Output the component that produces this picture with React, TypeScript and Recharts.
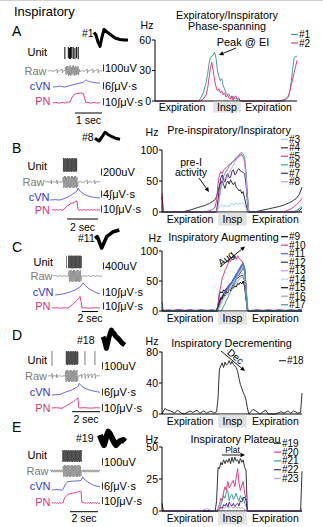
import React from 'react';
import { LineChart, Line, XAxis, YAxis, ReferenceArea, BarChart, Bar } from 'recharts';

type P = [number, number];
type S = [number, number, number];

const FONT = '"Liberation Sans", Arial, Helvetica, sans-serif';
const BAND_FILL = '#e2e2e2';

const TEAL = '#3f9d97';
const PINK = '#e63a88';
const LBLUE = '#92d6ee';
const DGREY = '#333333';
const DPURP = '#4b2882';
const LILAC = '#c49de8';
const BLUE = '#4b5fe3';
const GREY = '#a3a3a3';
const LCYAN = '#abe0f0';
const BLACK = '#111111';

// ---------- right-hand firing-rate panels ----------
const PHASE_LABELS = ['Expiration', 'Insp', 'Expiration'];

const T_A = [0, 10, 20, 28, 30, 32, 34, 36, 37, 38, 39, 40, 41, 42, 43, 44, 45, 46, 47, 48, 49, 50, 51, 52, 53, 54, 55, 56, 57, 58, 59, 60, 62, 65, 70, 80, 88, 90, 92, 94, 95, 96, 97, 98, 99, 100];
const A1 = [0, 0, 0, 0, 0, 2, 8, 18, 26, 36, 43, 44, 45, 48, 42, 30, 24, 20, 22, 15, 12, 8, 6, 7, 4, 3, 5, 2, 3, 1, 2, 0, 0, 0, 0, 0, 0, 0, 1, 4, 10, 20, 32, 42, 44, 44];
const A2 = [0, 0, 0, 0, 0, 0, 2, 6, 12, 22, 32, 38, 30, 20, 14, 10, 12, 8, 10, 6, 8, 4, 6, 3, 2, 5, 1, 4, 5, 2, 3, 0, 0, 0, 0, 0, 0, 1, 2, 5, 10, 16, 22, 28, 34, 40];

const T_B = [0, 1, 2, 4, 8, 12, 16, 20, 24, 28, 30, 32, 34, 36, 38,
  39, 40, 41, 42, 43, 44, 45, 46, 47, 48, 49, 50, 51, 52, 53, 54, 55, 56, 57, 58, 59, 60, 61, 62,
  64, 68, 72, 76, 80, 84, 88, 90, 92, 94, 96, 98, 100];
const B3 = [0, 0, 0, 0, 0, 0, 0, 0, 0, 0, 0, 0, 0, 0, 0,
  1, 4, 8, 10, 12, 9, 11, 8, 10, 9, 12, 14, 11, 13, 15, 12, 14, 13, 15, 14, 12, 6, 0, 0,
  0, 0, 0, 0, 0, 0, 0, 0, 0, 1, 3, 6, 10];
const B4 = [25, 0, 0, 0, 0, 0, 1, 3, 6, 9, 10, 12, 14, 17, 20,
  25, 33, 42, 48, 50, 44, 38, 46, 50, 45, 52, 47, 44, 48, 40, 38, 34, 36, 30, 33, 22, 12, 4, 0,
  0, 1, 3, 5, 7, 9, 12, 14, 16, 19, 22, 28, 40];
const B5 = [30, 0, 0, 0, 0, 0, 0, 0, 0, 0, 0, 1, 2, 4, 8,
  20, 45, 60, 65, 62, 68, 70, 72, 74, 77, 78, 80, 82, 84, 86, 88, 90, 92, 93, 88, 82, 60, 25, 0,
  0, 0, 0, 0, 0, 0, 1, 3, 5, 8, 12, 16, 22];
const B6 = [0, 0, 0, 0, 0, 0, 0, 0, 0, 0, 0, 0, 0, 0, 0,
  2, 10, 25, 40, 52, 58, 62, 66, 70, 74, 76, 80, 82, 85, 88, 90, 92, 95, 96, 94, 88, 65, 30, 0,
  0, 0, 0, 0, 0, 0, 0, 0, 0, 0, 2, 5, 8];
const B7 = [0, 0, 0, 0, 0, 0, 0, 0, 0, 0, 0, 0, 0, 0, 0,
  2, 20, 40, 55, 60, 52, 48, 58, 62, 55, 56, 66, 68, 60, 62, 68, 70, 66, 65, 64, 62, 45, 15, 0,
  0, 0, 0, 0, 0, 0, 0, 0, 0, 0, 0, 2, 6];
const B8 = [0, 0, 0, 0, 0, 0, 0, 0, 0, 0, 0, 0, 0, 0, 0,
  1, 8, 22, 35, 45, 48, 55, 52, 60, 62, 68, 72, 75, 80, 84, 86, 88, 90, 91, 88, 80, 55, 20, 0,
  0, 0, 0, 0, 0, 0, 0, 0, 0, 0, 0, 0, 0];

const T_C = [0, 1, 2, 4, 8, 12, 16, 20, 24, 28, 32, 36, 38,
  39, 40, 41, 42, 43, 44, 45, 46, 47, 48, 49, 50, 51, 52, 53, 54, 55, 56, 57, 58, 59, 60, 61, 62,
  64, 68, 72, 76, 80, 84, 88, 92, 96, 98, 100];
const C9 = [2, 0, 1, 0, 1, 0, 1, 0, 1, 0, 1, 0, 0,
  1, 10, 28, 32, 30, 35, 33, 38, 40, 44, 46, 42, 45, 50, 52, 55, 57, 58, 60, 57, 50, 25, 3, 0,
  0, 1, 0, 1, 0, 1, 0, 1, 0, 2, 3];
const C10 = [1, 2, 1, 2, 1, 3, 1, 2, 1, 2, 1, 2, 1,
  2, 8, 30, 42, 55, 60, 68, 72, 78, 85, 82, 90, 88, 93, 86, 92, 88, 85, 84, 78, 70, 40, 5, 0,
  1, 2, 1, 2, 1, 2, 1, 2, 1, 2, 3];
const C11 = [0, 1, 0, 1, 0, 1, 0, 1, 0, 1, 0, 1, 0,
  0, 5, 15, 20, 24, 28, 32, 35, 38, 42, 45, 48, 52, 56, 60, 64, 68, 72, 76, 78, 70, 35, 3, 0,
  0, 1, 0, 1, 0, 1, 0, 1, 0, 1, 2];
const C12 = [0, 0, 0, 0, 0, 0, 0, 0, 0, 0, 0, 0, 0,
  0, 2, 10, 18, 22, 26, 28, 32, 34, 38, 40, 42, 46, 48, 52, 55, 60, 64, 68, 72, 66, 30, 2, 0,
  0, 0, 0, 0, 0, 0, 0, 0, 0, 0, 0];
const C13 = [0, 0, 1, 0, 0, 1, 0, 0, 1, 0, 0, 1, 0,
  0, 3, 12, 16, 20, 25, 30, 28, 35, 38, 42, 45, 48, 50, 55, 58, 62, 66, 70, 74, 65, 32, 4, 0,
  0, 0, 1, 0, 0, 1, 0, 0, 1, 0, 0];
const C14 = [0, 0, 0, 0, 0, 0, 0, 0, 0, 0, 0, 0, 0,
  0, 0, 5, 10, 15, 20, 25, 30, 33, 36, 40, 44, 46, 50, 52, 56, 58, 60, 62, 64, 55, 28, 2, 0,
  0, 0, 0, 0, 0, 0, 0, 0, 0, 0, 0];
const C15 = [0, 0, 0, 0, 0, 0, 0, 0, 0, 0, 0, 0, 0,
  0, 5, 15, 22, 20, 28, 25, 32, 30, 36, 34, 40, 38, 42, 40, 46, 44, 48, 45, 50, 40, 20, 2, 0,
  0, 0, 0, 0, 0, 0, 0, 0, 0, 0, 0];
const C16 = [0, 0, 0, 0, 0, 0, 0, 0, 0, 0, 0, 0, 0,
  0, 2, 8, 12, 18, 22, 26, 30, 28, 35, 38, 40, 42, 45, 48, 50, 52, 55, 56, 58, 50, 25, 2, 0,
  0, 0, 0, 0, 0, 0, 0, 0, 0, 0, 0];
const C17 = [15, 0, 0, 0, 0, 0, 0, 0, 0, 0, 0, 0, 0,
  0, 0, 0, 0, 3, 8, 12, 18, 22, 28, 32, 36, 42, 48, 55, 62, 66, 70, 74, 78, 68, 30, 2, 0,
  0, 0, 0, 0, 0, 0, 0, 0, 0, 0, 0];

const T_D = [0, 2, 4, 6, 9, 11, 14, 16, 20, 22, 25, 27, 30, 32, 35, 37, 39,
  40, 41, 42, 43, 44, 45, 46, 47, 48, 49, 50, 51, 52, 53, 54, 55, 56, 57, 58, 59, 60, 61, 62,
  65, 67, 70, 74, 76, 81, 85, 87, 90, 92, 94, 97, 99, 100];
const D18 = [0, 7, 5, 4, 1, 5, 1, 0, 4, 2, 5, 1, 4, 1, 4, 1, 3,
  20, 58, 62, 66, 60, 67, 63, 65, 69, 64, 68, 64, 62, 60, 55, 46, 38, 33, 28, 24, 18, 8, 0,
  6, 4, 0, 5, 0, 0, 3, 1, 4, 1, 4, 1, 2, 27];

const T_E = [0, 1, 2, 4, 8, 12, 16, 20, 24, 28, 32, 36, 38,
  39, 40, 41, 42, 43, 44, 45, 46, 47, 48, 49, 50, 51, 52, 53, 54, 55, 56, 57, 58, 59, 60, 61, 62,
  64, 68, 72, 76, 80, 84, 88, 92, 96, 98, 99, 100];
const E19 = [6, 0, 0, 0, 0, 0, 0, 0, 0, 0, 0, 0, 0,
  8, 34, 33, 38, 36, 40, 37, 40, 38, 41, 37, 42, 38, 42, 39, 40, 37, 41, 38, 40, 34, 32, 0, 0,
  0, 0, 0, 0, 0, 0, 0, 0, 0, 0, 0, 31];
const E20 = [0, 0, 0, 0, 0, 0, 0, 0, 0, 0, 0, 0, 0,
  0, 2, 5, 10, 8, 15, 19, 16, 23, 18, 20, 22, 24, 19, 26, 33, 22, 16, 20, 23, 14, 10, 0, 0,
  0, 0, 0, 0, 0, 0, 0, 0, 0, 0, 0, 2];
const E21 = [0, 0, 0, 0, 0, 0, 0, 0, 0, 0, 0, 0, 0,
  0, 0, 2, 5, 8, 12, 10, 15, 16, 8, 12, 13, 9, 11, 14, 10, 8, 12, 9, 11, 6, 4, 0, 0,
  0, 0, 0, 0, 0, 0, 0, 0, 0, 0, 0, 0];
const E22 = [0, 0, 0, 0, 0, 0, 0, 0, 0, 0, 0, 0, 0,
  0, 0, 1, 3, 2, 5, 4, 6, 3, 7, 5, 4, 6, 3, 5, 6, 4, 8, 7, 10, 11, 8, 1, 0,
  0, 0, 0, 0, 0, 0, 0, 0, 0, 0, 0, 0];
const E23 = [0, 0, 0, 0, 0, 0, 0, 0, 0, 0, 2, 0, 0,
  0, 0, 1, 2, 1, 3, 2, 4, 3, 2, 4, 3, 2, 4, 3, 2, 3, 2, 3, 2, 1, 1, 0, 0,
  0, 0, 0, 0, 0, 0, 0, 0, 0, 0, 0, 0];

// ---------- left-hand example traces ----------
const UNIT_A: S[] = [[35, -6, 6], [41, -5, 6], [43, -6, 5], [45, -6, 6], [47, -5, 6], [49.6, -6, 6], [52.6, -6, 5], [55.6, -5, 6], [58.4, -6, 6]];
const RAW_A: P[] = [[5, 0], [10, 0.4], [14, -0.3], [18, 0.3], [21, 2], [21.5, -2], [22, 0], [26, 0.3], [30, 2], [30.5, -2], [31, 0], [34, 0.3], [35, 0], [36, 4], [37, -4], [38, 5], [39, -3], [40, 5], [41, -5], [42, 4], [43, -4], [44, 6], [45, -5], [46, 4], [47, -4], [48, 5], [49, -3], [50, 6], [51, -5], [52, 4], [53, -4], [54, 5], [55, -4], [56, 4], [57, -3], [58, 5], [59, -4], [60, 2], [61, -1], [62, 0], [66, 0.3], [70, -0.3], [74, 2], [74.5, -2], [75, 0], [79, 0.3], [84, 2], [84.5, -2], [85, 0], [89, 0.3], [93, 2], [93.5, -2], [94, 0], [97, 0.3], [100, 0]];
const CVN_A: P[] = [[14, 0], [20, 0.3], [26, 1], [30, 0.5], [34, 0], [38.6, 0.5], [44, 1.5], [49, 2.3], [58, 3.5], [66.7, 4.6], [71, 6.5], [72, 7.3], [74, 6.2], [78, 5.5], [83, 4.8], [89.5, 4.2], [96.5, 3.8]];
const PN_A: P[] = [[14, 0], [19, 0.8], [24.6, -0.3], [29.8, 0.7], [35, 0], [40, 0.8], [43.9, 1], [47, 5], [50.9, 8.5], [56, 9.5], [62, 10], [67.2, 9.5], [69.5, 5], [71.5, 0.5], [75.4, 0.7], [80.7, -0.2], [86, 0.6], [91, -0.2], [96.5, 0.5]];

const UNIT_B: S[] = [[32, -7, 7], [33, -6, 7], [34, -7, 6], [35, -7, 7], [36, -6, 7], [37, -7, 7], [38, -7, 6], [39, -6, 7], [40, -7, 7], [41, -7, 6], [42, -6, 7], [43, -7, 7], [44, -7, 6], [45, -6, 7], [46, -7, 7], [47, -7, 6], [48, -6, 7], [49, -7, 7], [50, -7, 6], [51, -6, 7], [52, -7, 7], [53, -7, 6], [54, -6, 7], [55, -7, 7], [56, -6, 6]];
const RAW_B: P[] = [[0, 0], [5, 0.4], [10, -0.3], [11, 2], [11.5, -2], [12, 0], [16, 0.3], [20, -0.3], [21, 2], [21.5, -2], [22, 0], [26, 0.3], [30, -0.3], [31.5, 0], [32, 5], [33, -6], [34, 6], [35, -5], [36, 6], [37, -6], [38, 5], [39, -6], [40, 6], [41, -5], [42, 6], [43, -6], [44, 5], [45, -6], [46, 6], [47, -5], [48, 6], [49, -6], [50, 5], [51, -6], [52, 6], [53, -5], [54, 6], [55, -6], [56, 5], [57, -5], [58, 0], [62, 0.3], [66, -0.3], [70, 0.3], [74, 2], [74.5, -2], [75, 0], [79, 0.3], [83, -0.3], [87, 2], [87.5, -2], [88, 0], [92, 0.3], [96.5, 0]];
const CVN_B: P[] = [[8.8, 0], [17.5, 0.3], [26.3, 0], [31.6, 1], [40.4, 3], [47.4, 5.5], [52.6, 7.5], [56, 9], [57.9, 12], [59.6, 10], [63, 8], [68.4, 6], [75.4, 4], [82.5, 3], [89.5, 2.5], [96.5, 2]];
const PN_B: P[] = [[12.3, 0], [15, 0.4], [18, -0.3], [21, 0.4], [24, -0.3], [27, 0.4], [30, -0.3], [31.6, 0], [35, 2], [40, 4.5], [45.6, 6.5], [50.9, 7.5], [54.4, 9], [56, 9], [57.2, 4], [57.9, 0.5], [60, -0.3], [63, 0.4], [66, -0.3], [69, 0.4], [72, -0.3], [75, 0.4], [78, -0.3], [81, 0.4], [84, -0.3], [87, 0.4], [90, -0.3], [93, 0.4], [96.5, 0]];

const UNIT_C: S[] = [[38, -6, 6], [41, -6, 6.5], [42, -6.5, 6], [43, -6, 6.5], [44, -6.5, 6.5], [45, -6, 6], [46, -6.5, 6.5], [47, -6, 6.5], [48, -6.5, 6], [49, -6, 6.5], [50, -6.5, 6.5], [51, -6, 6], [52, -6.5, 6.5], [53, -6, 6.5], [54, -6.5, 6], [55, -6, 6.5], [56, -6.5, 6.5], [57, -6, 6], [58, -6.5, 6.5], [59, -6, 6.5], [60, -6.5, 6], [61, -6, 6.5], [62, -6.5, 6.5], [63, -6, 6], [64, -6, 6]];
const RAW_C: P[] = [[14, 0], [18, 0.4], [22, -0.3], [26, 0.3], [30, -0.3], [34, 0.3], [38, -0.3], [41, 0], [42, 5], [43, -6], [44, 6], [45, -5], [46, 6], [47, -6], [48, 5], [49, -6], [50, 6], [51, -5], [52, 6], [53, -6], [54, 5], [55, -6], [56, 6], [57, -5], [58, 6], [59, -6], [60, 5], [61, -6], [62, 6], [63, -5], [64, 0], [68, 0.3], [72, -0.3], [76, 0.3], [80, -0.3], [84, 0.3], [88, -0.3], [92, 0.3], [96, -0.3], [100, 0]];
const CVN_C: P[] = [[17.5, 0], [26.3, 0.5], [35, 1.5], [43.9, 3], [52.6, 5], [61.4, 8], [66.7, 12], [70, 10], [75.4, 7], [82.5, 4.5], [89.5, 2.5], [96.5, 1]];
const PN_C: P[] = [[12.3, 0], [20, 0.3], [28, -0.2], [36, 0.3], [40.4, 0], [45, 2], [50, 4.5], [55, 7], [59, 9.5], [61.4, 11.6], [63.5, 6], [64.9, 0], [70, 0.3], [78, -0.2], [86, 0.3], [96.5, 0]];

const UNIT_D: S[] = [[12.3, -8, 7], [37, -7, 7], [38, -6, 7], [39, -7, 6], [40, -7, 7], [41, -6, 7], [42, -7, 7], [43, -7, 6], [44, -6, 7], [45, -7, 7], [46, -7, 6], [47, -6, 7], [48, -7, 7], [49, -7, 6], [50, -6, 7], [51, -7, 7], [52, -7, 6], [53, -6, 7], [54, -7, 7], [55, -7, 6], [56, -6, 7], [57, -7, 7], [58, -6, 6], [70.2, -7, 7], [87.7, -7, 7]];
const RAW_D: P[] = [[5, 0], [9, 0.4], [12, -0.3], [12.5, 2.5], [13, -2.5], [13.5, 0], [16, 0.3], [20, -0.3], [20.5, 2], [21, -2], [21.5, 0], [25, 0.3], [29, -0.3], [33, 0.3], [35.5, 0], [36, 5], [37, -6], [38, 6], [39, -5], [40, 6], [41, -6], [42, 5], [43, -6], [44, 6], [45, -5], [46, 6], [47, -6], [48, 5], [49, -6], [50, 6], [51, -5], [52, 6], [53, -6], [54, 5], [55, -6], [56, 6], [57, -5], [58, 0], [62, 0.3], [64, 2], [64.5, -2], [65, 0], [70, 2.5], [70.5, -2.5], [71, 0], [75.5, 2], [76, -2], [76.5, 0], [82, 2], [82.5, -2], [83, 0], [88, 2.5], [88.5, -2.5], [89, 0], [93, 0.3], [96.5, 0]];
const CVN_D: P[] = [[12.3, 0], [26.3, 0.5], [35, 2.7], [47, 5], [55, 7.5], [58.5, 9], [60, 11.7], [63, 9.5], [70, 6.7], [78, 5], [86, 3.8], [96.5, 2.7]];
const PN_D: P[] = [[12.3, 0], [20, 0.3], [28, -0.2], [31.6, 0], [35, 1.6], [40, 3], [45, 5], [50, 6.5], [54, 8.3], [58, 10], [59, 1], [60, 0], [70, 0.3], [80, -0.2], [90, 0.3], [96.5, 0]];

const UNIT_E: S[] = [[31, -6, 6], [32, -5, 6], [33, -6, 5], [34, -6, 6], [35, -5, 6], [36, -6, 6], [37, -6, 5], [38, -5, 6], [39, -6, 6], [40, -6, 5], [41, -5, 6], [42, -6, 6], [43, -6, 5], [44, -5, 6], [45, -6, 6], [46, -6, 5], [47, -5, 6], [48, -6, 6], [49, -6, 5], [50, -5, 6], [51, -6, 6], [52, -6, 5], [53, -5, 6], [54, -6, 6], [55, -6, 5], [56, -5, 6], [57, -6, 6], [58, -6, 5], [59, -5, 6], [60, -6, 6], [61, -6, 5], [62, -5, 6], [63, -6, 6], [64, -6, 6]];
const RAW_E: P[] = [[9, 0], [10.5, 1.2], [12, -1.2], [13.5, 1.2], [15, -1.2], [16.5, 1.2], [18, -1.2], [19.5, 1.2], [21, -1.2], [22.5, 1.2], [24, -1.2], [25.5, 1.2], [27, -1.2], [28.5, 1.2], [30, -1.2], [31.5, 0], [32, 5], [33, -6], [34, 6], [35, -5], [36, 6], [37, -6], [38, 5], [39, -6], [40, 6], [41, -5], [42, 6], [43, -6], [44, 5], [45, -6], [46, 6], [47, -5], [48, 6], [49, -6], [50, 5], [51, -6], [52, 6], [53, -5], [54, 6], [55, -6], [56, 5], [57, -6], [58, 6], [59, -5], [60, 6], [61, -6], [62, 5], [63, -5], [64, 0], [65.5, 1.2], [67, -1.2], [68.5, 1.2], [70, -1.2], [71.5, 1.2], [73, -1.2], [74.5, 1.2], [76, -1.2], [77.5, 1.2], [79, -1.2], [80.5, 1.2], [82, -1.2], [83.5, 1.2], [85, -1.2], [86.5, 1.2], [88, -1.2], [89.5, 1.2], [91, -1.2], [92.5, 1.2], [94, -1.2], [95.5, 1.2], [96.5, 0]];
const CVN_E: P[] = [[12.3, 0], [22.8, 0.5], [29.8, -0.3], [32, 1], [35, 5], [38, 7.5], [40.4, 8.3], [47.4, 8.8], [54.4, 9], [61.4, 9.3], [64, 10], [66, 13.3], [68.4, 11], [75.4, 8], [82.5, 5.5], [89.5, 4], [96.5, 3.3]];
const PN_E: P[] = [[12.3, 0], [14, 0.6], [16, -0.6], [18, 0.6], [20, -0.6], [22, 0.6], [24, -0.6], [26, 0.6], [28, -0.6], [30, 0.6], [31.6, 0], [33, 3], [35, 5.5], [38, 7.5], [40.4, 8.5], [45, 9.5], [50, 10], [55, 10.5], [60, 11.5], [62, 12], [63.2, 11.5], [64.5, 2], [65.5, 0], [68, 0.6], [70, -0.6], [72, 0.6], [74, -0.6], [76, 0.6], [78, -0.6], [80, 0.6], [82, -0.6], [84, 0.6], [86, -0.6], [88, 0.6], [90, -0.6], [92, 0.6], [94, -0.6], [96.5, 0]];

// spike waveforms
const WAVE_A: P[] = [[0, 4.7], [2, 2], [4, -5], [6, -9.5], [8, 0], [10, 7.5], [13, 5], [17, 2], [21, -1], [26, -2.5], [30, -3], [34, -3]];
const WAVE_B: P[] = [[0, -2.3], [4, -5], [7, -1], [10, 3.7], [13, 1.5], [17, -0.7], [21, -2.5], [25, -3.3]];
const WAVE_C: P[] = [[0, -0.3], [2.3, 1.3], [6.7, -10], [11.7, 1.3], [18.3, 6.3], [24.3, 8]];
const WAVE_D: P[] = [[0, 3.3], [1, 1], [2, -3], [3.4, -8.3], [4.5, -4], [6, 3], [7, 6], [8.4, 10], [9.5, 8], [11, 6.5], [12.5, 4], [15, 1.7], [17, -0.5], [19, -3], [21.7, -5]];
const WAVE_E: P[] = [[0, 3], [1.7, -2], [4, -7], [6, 0], [8.3, 6.3], [10, 4], [12, 0], [14, -4], [16, -7], [18, -5], [20, -3], [23.3, -2], [25, -3.7]];

const TRACE_NAMES = ['Unit', 'Raw', 'cVN', 'PN'];
const TRACE_COLORS = ['#000000', '#7a7a7a', '#3535d0', '#e0307a'];
const LINE_COLORS = ['#000000', '#8a8a8a', '#6a6ae6', '#e8408c'];

// ---------- layout ----------
type Ser = { name: string; color: string; values: number[]; w?: number };
const PANELS = [
  { id: 'A', x0: 155, y0: 40, x1: 297, y1: 101, grid: T_A, yMax: 60, yTicks: [0, 30, 60], band: [40.8, 60.6], expTicks: [19, 80], labDy: 6, greyH: 11,
    title: ['Expiratory/Inspiratory', 'Phase-spanning'], titleX: 227, titleY: [15, 25.5], hz: [147, 25],
    legX: 291, legY: 34.5, legStep: 8.5,
    series: [{ name: '#1', color: TEAL, values: A1 }, { name: '#2', color: PINK, values: A2 }] as Ser[] },
  { id: 'B', x0: 162, y0: 150, x1: 302, y1: 212, grid: T_B, yMax: 100, yTicks: [0, 50, 100], band: [40.2, 60.5], expTicks: [20, 81], labDy: 7, greyH: 13,
    title: ['Pre-inspiratory/Inspiratory'], titleX: 229, titleY: [130], hz: [152, 132],
    legX: 281, legY: 139.3, legStep: 8.5,
    series: [{ name: '#3', color: LBLUE, values: B3 }, { name: '#4', color: DGREY, values: B4 }, { name: '#5', color: PINK, values: B5 },
      { name: '#6', color: TEAL, values: B6 }, { name: '#7', color: DPURP, values: B7 }, { name: '#8', color: LILAC, values: B8 }] as Ser[] },
  { id: 'C', x0: 162, y0: 251, x1: 302, y1: 311, grid: T_C, yMax: 100, yTicks: [0, 50, 100], band: [40.2, 60.5], expTicks: [20, 81], labDy: 7, greyH: 13,
    title: ['Inspiratory Augmenting'], titleX: 223.5, titleY: [237], hz: [155, 238],
    legX: 281, legY: 236.7, legStep: 8.5,
    series: [{ name: '#9', color: BLACK, values: C9 }, { name: '#10', color: PINK, values: C10 }, { name: '#11', color: BLUE, values: C11, w: 1.8 },
      { name: '#12', color: DPURP, values: C12 }, { name: '#13', color: LILAC, values: C13 }, { name: '#14', color: LCYAN, values: C14 },
      { name: '#15', color: BLACK, values: C15 }, { name: '#16', color: GREY, values: C16 }, { name: '#17', color: TEAL, values: C17 }] as Ser[] },
  { id: 'D', x0: 162, y0: 352, x1: 302, y1: 414, grid: T_D, yMax: 80, yTicks: [0, 40, 80], band: [40.2, 60.5], expTicks: [20, 81], labDy: 7, greyH: 13,
    title: ['Inspiratory Decrementing'], titleX: 231.5, titleY: [343.3], hz: [152, 341],
    legX: 279, legY: 360.7, legStep: 8.5,
    series: [{ name: '#18', color: DGREY, values: D18 }] as Ser[] },
  { id: 'E', x0: 162, y0: 447, x1: 302, y1: 511, grid: T_E, yMax: 50, yTicks: [0, 25, 50], band: [40.2, 60.5], expTicks: [20, 81], labDy: 7, greyH: 13,
    title: ['Inspiratory Plateau'], titleX: 235.5, titleY: [439.3], hz: [152, 439],
    legX: 274, legY: 443.3, legStep: 8.8,
    series: [{ name: '#19', color: DGREY, values: E19 }, { name: '#20', color: PINK, values: E20 }, { name: '#21', color: TEAL, values: E21 },
      { name: '#22', color: DPURP, values: E22 }, { name: '#23', color: LILAC, values: E23 }] as Ser[] },
];

const LX0 = 45;
const LX1 = 102;
const ROWS = [
  { id: 'A', letterY: 31, unitName: '#1', idX: 82, idY: 33, band: [45.6, 70.2], bandTop: 44, bandBot: 109,
    unit: UNIT_A, raw: RAW_A, cvn: CVN_A, pn: PN_A, ys: [53, 71, 87.3, 103], labY: [52.3, 71, 85.7, 101], labR: [47, 46.5, 50.5, 50.5],
    scaleX: 103, scaleY: [68, 85.7, 101.7], scaleT: ['100uV', '6∫μV·s', '10∫μV·s'],
    time: { x1: 75, x2: 102, y: 113, ty: 120, text: '1 sec' }, wave: { data: WAVE_A, x0: 94, x1: 128, y: 37, w: 3 } },
  { id: 'B', letterY: 148, unitName: '#8', idX: 82, idY: 137, band: [31.6, 57.9], bandTop: 150, bandBot: 213,
    unit: UNIT_B, raw: RAW_B, cvn: CVN_B, pn: PN_B, ys: [165, 182, 200, 210], labY: [165.7, 182, 197, 210], labR: [47, 44.5, 49.5, 50],
    scaleX: 101, scaleY: [172, 194, 209], scaleT: ['200uV', '4∫μV·s', '10∫μV·s'],
    time: { x1: 67, x2: 98, y: 219, ty: 226.5, text: '2 sec' }, wave: { data: WAVE_B, x0: 95, x1: 120, y: 136, w: 3 } },
  { id: 'C', letterY: 247, unitName: '#11', idX: 78, idY: 238, band: [40.4, 64.9], bandTop: 247, bandBot: 313,
    unit: UNIT_C, raw: RAW_C, cvn: CVN_C, pn: PN_C, ys: [261.5, 276, 295, 308.3], labY: [261.7, 275.7, 292.3, 306], labR: [53, 52.5, 53.5, 50.5],
    scaleX: 103, scaleY: [266, 292, 306], scaleT: ['400uV', '10∫μV·s', '10∫μV·s'],
    time: { x1: 82, x2: 98, y: 311.5, ty: 318, text: '2 sec' }, wave: { data: WAVE_C, x0: 95, x1: 120, y: 238, w: 3.5 } },
  { id: 'D', letterY: 335, unitName: '#18', idX: 77, idY: 340, band: [35, 57.9], bandTop: 350, bandBot: 413,
    unit: UNIT_D, raw: RAW_D, cvn: CVN_D, pn: PN_D, ys: [358, 376, 395, 408.3], labY: [360, 376, 392.3, 407.7], labR: [47, 47, 50.5, 50.5],
    scaleX: 102, scaleY: [365.7, 392, 407.5], scaleT: ['100uV', '6∫μV·s', '10∫μV·s'],
    time: { x1: 72, x2: 100, y: 411.7, ty: 419.3, text: '2 sec' }, wave: { data: WAVE_D, x0: 103, x1: 125, y: 340, w: 5 } },
  { id: 'E', letterY: 427, unitName: '#19', idX: 76, idY: 438, band: [31.6, 63.2], bandTop: 447, bandBot: 510,
    unit: UNIT_E, raw: RAW_E, cvn: CVN_E, pn: PN_E, ys: [456, 471, 490, 503.3], labY: [455, 471, 486, 501.7], labR: [47, 48.5, 50.5, 50.5],
    scaleX: 102, scaleY: [461.7, 486, 500.5], scaleT: ['100uV', '6∫μV·s', '10∫μV·s'],
    time: { x1: 70, x2: 98, y: 511.7, ty: 518.3, text: '2 sec' }, wave: { data: WAVE_E, x0: 100, x1: 125, y: 438, w: 6 } },
];

const NO_MARGIN = { top: 0, right: 0, left: 0, bottom: 0 };

function TraceChart({ x0, x1, y, data, color, w, domainX }: { x0: number; x1: number; y: number; data: P[]; color: string; w: number; domainX: [number, number] }) {
  return (
    <div style={{ position: 'absolute', left: x0, top: y - 15 }}>
      <LineChart width={x1 - x0} height={30} data={data.map(([t, v]) => ({ t, v }))} margin={NO_MARGIN}>
        <XAxis type="number" dataKey="t" domain={domainX} hide />
        <YAxis type="number" domain={[-15, 15]} hide />
        <Line type="linear" dataKey="v" stroke={color} strokeWidth={w} dot={false} isAnimationActive={false} strokeLinejoin="round" />
      </LineChart>
    </div>
  );
}

function UnitChart({ y, data }: { y: number; data: S[] }) {
  return (
    <div style={{ position: 'absolute', left: LX0, top: y - 15 }}>
      <BarChart width={LX1 - LX0} height={30} data={data.map(([t, lo, hi]) => ({ t, r: [lo, hi] }))} margin={NO_MARGIN} barSize={1}>
        <XAxis type="number" dataKey="t" domain={[0, 100]} hide />
        <YAxis type="number" domain={[-15, 15]} hide />
        <Bar dataKey="r" fill="#000" barSize={1} isAnimationActive={false} />
      </BarChart>
    </div>
  );
}

function LeftRow({ r }: { r: typeof ROWS[number] }) {
  const traces = [r.raw, r.cvn, r.pn];
  const wmax = r.wave.x1 - r.wave.x0;
  return (
    <>
      <div style={{ position: 'absolute', left: LX0, top: r.bandTop }}>
        <LineChart width={LX1 - LX0} height={r.bandBot - r.bandTop} data={[{ t: 0 }, { t: 100 }]} margin={NO_MARGIN}>
          <XAxis type="number" dataKey="t" domain={[0, 100]} hide />
          <YAxis type="number" domain={[0, 1]} hide />
          <ReferenceArea x1={r.band[0]} x2={r.band[1]} fill={BAND_FILL} fillOpacity={1} stroke="none" />
        </LineChart>
      </div>
      <UnitChart y={r.ys[0]} data={r.unit} />
      {traces.map((d, i) => (
        <TraceChart key={i} x0={LX0} x1={LX1} y={r.ys[i + 1]} data={d} color={LINE_COLORS[i + 1]} w={i === 0 ? 0.8 : 1} domainX={[0, 100]} />
      ))}
      <TraceChart x0={r.wave.x0} x1={r.wave.x1} y={r.wave.y} data={r.wave.data} color="#000" w={r.wave.w} domainX={[0, wmax]} />
    </>
  );
}

function PhaseChart({ p }: { p: typeof PANELS[number] }) {
  const W = p.x1 - p.x0;
  const H = p.y1 - p.y0;
  const data = p.grid.map((t, i) => {
    const row: Record<string, number> = { t };
    p.series.forEach((s) => { row[s.name] = s.values[i]; });
    return row;
  });
  const mid = (p.band[0] + p.band[1]) / 2;
  const bw = ((p.band[1] - p.band[0]) / 100) * W;
  const ticks = [p.expTicks[0], mid, p.expTicks[1]];
  const Tick = (tp: any) => {
    const v = tp.payload.value;
    const idx = ticks.findIndex((k) => Math.abs(k - v) < 1e-6);
    const isInsp = idx === 1;
    return (
      <g>
        {isInsp && <rect x={tp.x - bw / 2} y={tp.y + 0.6} width={bw} height={p.greyH} fill={BAND_FILL} />}
        <text x={tp.x} y={tp.y + p.labDy} textAnchor="middle" dominantBaseline="central" fontSize={10.5} fill="#000" fontFamily={FONT}>
          {PHASE_LABELS[idx < 0 ? 0 : idx]}
        </text>
      </g>
    );
  };
  return (
    <>
      <div style={{ position: 'absolute', left: p.x0 - 40, top: p.y0 - 10 }}>
        <LineChart width={W + 50} height={H + 30} data={[{ t: 0 }, { t: 100 }]} margin={{ top: 10, right: 10, left: 40, bottom: 20 }}>
          <XAxis type="number" dataKey="t" domain={[0, 100]} hide />
          <YAxis type="number" domain={[0, p.yMax]} hide />
          <ReferenceArea x1={p.band[0]} x2={p.band[1]} fill={BAND_FILL} fillOpacity={1} stroke="none" />
        </LineChart>
      </div>
      <div style={{ position: 'absolute', left: p.x0 - 40, top: p.y0 - 10 }}>
        <LineChart width={W + 50} height={H + 30} data={data} margin={{ top: 10, right: 10, left: 0, bottom: 0 }}>
          <XAxis type="number" dataKey="t" domain={[0, 100]} ticks={ticks} interval={0} tick={<Tick />} tickLine={false} tickSize={0} tickMargin={0} height={20} axisLine={{ stroke: '#000', strokeWidth: 1 }} />
          <YAxis type="number" domain={[0, p.yMax]} ticks={p.yTicks} interval={0} width={40} tickSize={3} tickMargin={1}
            tick={{ fontSize: 10.5, fill: '#000', fontFamily: FONT }} axisLine={{ stroke: '#000' }} tickLine={{ stroke: '#000' }} />
          {p.series.map((s) => (
            <Line key={s.name} type="linear" dataKey={s.name} stroke={s.color} strokeWidth={s.w ?? 1} dot={false} isAnimationActive={false} />
          ))}
        </LineChart>
      </div>
    </>
  );
}

function Txt({ x, y, size = 10.5, color = '#000', anchor = 'start', rotate, children }: any) {
  return (
    <text x={x} y={y} fontSize={size} fill={color} textAnchor={anchor} dominantBaseline="central" fontFamily={FONT}
      transform={rotate ? `rotate(${rotate} ${x} ${y})` : undefined}>
      {children}
    </text>
  );
}

function Arrow({ x1, y1, x2, y2 }: { x1: number; y1: number; x2: number; y2: number }) {
  const a = Math.atan2(y2 - y1, x2 - x1);
  const L = 4.5;
  const Wd = 2.2;
  const bx = x2 - L * Math.cos(a);
  const by = y2 - L * Math.sin(a);
  const px = -Math.sin(a) * Wd;
  const py = Math.cos(a) * Wd;
  return (
    <g>
      <line x1={x1} y1={y1} x2={bx} y2={by} stroke="#000" strokeWidth={0.9} />
      <polygon points={`${x2},${y2} ${bx + px},${by + py} ${bx - px},${by - py}`} fill="#000" />
    </g>
  );
}

function Overlay() {
  return (
    <svg width={323} height={527} style={{ position: 'absolute', left: 0, top: 0, pointerEvents: 'none' }}>
      <line x1={0} y1={0.5} x2={323} y2={0.5} stroke="#d0d0d0" />
      <Txt x={14} y={11} size={13}>Inspiratory</Txt>
      {ROWS.map((r) => (
        <g key={r.id}>
          <Txt x={12} y={r.letterY} size={14}>{r.id}</Txt>
          <Txt x={r.idX} y={r.idY} size={10.5}>{r.unitName}</Txt>
          {TRACE_NAMES.map((n, i) => (
            <Txt key={n} x={r.labR[i]} y={r.labY[i]} size={11} color={TRACE_COLORS[i]} anchor="end">{n}</Txt>
          ))}
          {r.scaleT.map((s, i) => (
            <g key={i}>
              <line x1={r.scaleX + 0.5} x2={r.scaleX + 0.5} y1={r.scaleY[i] - 3.5} y2={r.scaleY[i] + 3.5} stroke="#000" strokeWidth={0.8} />
              <Txt x={r.scaleX + 2} y={r.scaleY[i]} size={11}>{s}</Txt>
            </g>
          ))}
          <line x1={r.time.x1} x2={r.time.x2} y1={r.time.y} y2={r.time.y} stroke="#000" strokeWidth={1} />
          <Txt x={(r.time.x1 + r.time.x2) / 2} y={r.time.ty} size={10.5} anchor="middle">{r.time.text}</Txt>
        </g>
      ))}
      {PANELS.map((p) => (
        <g key={p.id}>
          {p.title.map((t, i) => (
            <Txt key={i} x={p.titleX} y={p.titleY[i]} size={10.8} anchor="middle">{t}</Txt>
          ))}
          <Txt x={p.hz[0]} y={p.hz[1]} size={10.5} anchor="middle">Hz</Txt>
          {p.series.map((s, i) => (
            <g key={s.name}>
              <line x1={p.legX} x2={p.legX + 7} y1={p.legY + i * p.legStep} y2={p.legY + i * p.legStep} stroke={s.color} strokeWidth={1.2} />
              <Txt x={p.legX + 8} y={p.legY + i * p.legStep} size={10}>{s.name}</Txt>
            </g>
          ))}
        </g>
      ))}
      <Txt x={243} y={42} size={11} anchor="middle">Peak @ EI</Txt>
      <Arrow x1={236} y1={48} x2={219} y2={55} />
      <Txt x={191} y={162} size={10.5} anchor="middle">pre-I</Txt>
      <Txt x={191} y={171.5} size={10.5} anchor="middle">activity</Txt>
      <Arrow x1={199} y1={178} x2={209} y2={192} />
      <Txt x={226} y={258.5} size={10} anchor="middle" rotate={-38}>Aug</Txt>
      <Arrow x1={220} y1={267} x2={245} y2={246.5} />
      <Txt x={235.5} y={356.5} size={10} anchor="middle" rotate={40}>Dec</Txt>
      <Arrow x1={221} y1={351} x2={245} y2={371} />
      <Txt x={232.5} y={450} size={8.5} anchor="middle">Plat</Txt>
      <Arrow x1={222} y1={455} x2={245} y2={455} />
    </svg>
  );
}

export default function App() {
  return (
    <div style={{ position: 'absolute', left: 0, top: 0, width: 323, height: 527, background: '#fff', fontFamily: FONT, overflow: 'hidden' }}>
      <style>{'.recharts-surface{overflow:visible}'}</style>
      {ROWS.map((r) => <LeftRow key={r.id} r={r} />)}
      {PANELS.map((p) => <PhaseChart key={p.id} p={p} />)}
      <Overlay />
    </div>
  );
}
